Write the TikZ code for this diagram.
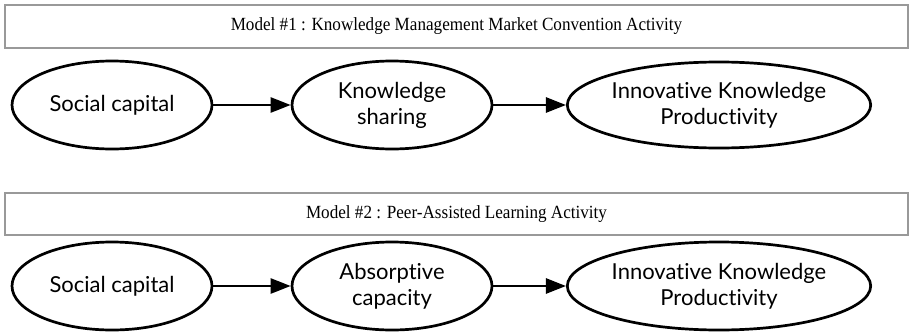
\documentclass[tikz,border=0pt]{standalone}
\usepackage{fontspec}
\setmainfont{Liberation Serif}
\newfontfamily\titlefont{Liberation Serif}[FakeStretch=0.92]
\newfontfamily\ovalfont{Lato}[Ligatures=NoCommon]
\usetikzlibrary{arrows.meta,shapes.geometric}

\begin{document}
\begin{tikzpicture}
[x=1pt,y=-1pt
,mbox/.style={draw=gray!80,line width=1.3pt,minimum width=903pt,inner sep=0pt,
  font=\titlefont\fontsize{18.6}{20}\selectfont}
,cn/.style={ellipse,draw,line width=2.7pt,inner sep=0pt,align=center,
  minimum width=200pt,minimum height=88pt,font=\ovalfont\fontsize{22}{26}\selectfont}
,wide/.style={cn,minimum width=289pt,minimum height=86pt}
,ce/.style={line width=2.6pt,arrows={-Triangle[length=20pt,width=15pt]}}]
\useasboundingbox (0,0) rectangle (909,332);
% model 1
\node[mbox,minimum height=43pt] (m1) at (456.5,26.5)
  {Model \#1 : Knowledge Management Market Convention Activity};
\node[cn] (sc1) at (112,105) {Social capital};
\node[cn] (ks) at (392,105) {Knowledge\\sharing};
\node[wide] (ikp1) at (719,105) {Innovative Knowledge\\Productivity};
\draw[ce] (sc1) -- (ks);
\draw[ce] (ks) -- (ikp1);
% model 2
\node[mbox,minimum height=42pt] (m2) at (456.5,214)
  {Model \#2 : Peer-Assisted Learning Activity};
\node[cn] (sc2) at (112,286) {Social capital};
\node[cn] (ac) at (392,286) {Absorptive\\capacity};
\node[wide,minimum height=88pt] (ikp2) at (719,286) {Innovative Knowledge\\Productivity};
\draw[ce] (sc2) -- (ac);
\draw[ce] (ac) -- (ikp2);
\end{tikzpicture}
\end{document}
